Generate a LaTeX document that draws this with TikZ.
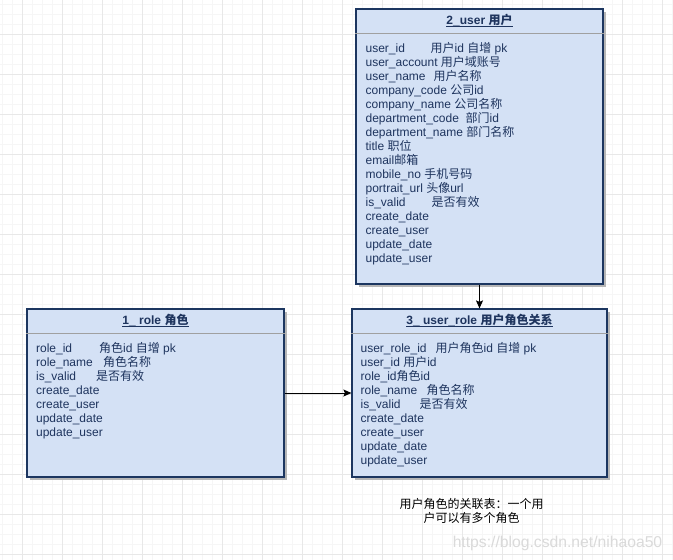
\documentclass[tikz,border=0pt]{standalone}
\usepackage{fontspec}
\setmainfont{Liberation Sans}
\newfontfamily\cjkfont{Noto Sans CJK SC}
\usetikzlibrary{arrows.meta,shadows}
\definecolor{boxfill}{RGB}{212,225,245}
\definecolor{boxline}{RGB}{28,54,96}
\definecolor{boxtext}{RGB}{30,52,94}
\definecolor{gridminor}{RGB}{246,246,246}
\definecolor{gridmajor}{RGB}{232,232,232}
\definecolor{sepgray}{RGB}{160,160,160}
\definecolor{shadowgray}{RGB}{182,182,182}
\definecolor{markgray}{RGB}{218,218,218}
\newcommand{\zh}[1]{{\cjkfont #1}}
\newcommand{\fld}[2]{\makebox[#1pt][l]{#2}}
\newcommand{\uline}[1]{\setbox0\hbox{#1}\rlap{\rule[-2.8pt]{\wd0}{1pt}}\box0}

\begin{document}
\begin{tikzpicture}[x=1pt,y=-1pt,>={Stealth[length=8pt,width=7pt,inset=1.5pt]},
		tablebox/.style={rectangle,draw=boxline,line width=1.2pt,fill=boxfill,inner sep=0pt,
			drop shadow={shadow xshift=2.5pt,shadow yshift=-2.5pt,fill=shadowgray,opacity=1}},
		tabletitle/.style={font=\bfseries\fontsize{12}{14}\selectfont,text=boxtext,anchor=base,inner sep=0pt},
		fields/.style={font=\fontsize{12}{14}\selectfont,text=boxtext,align=left,anchor=north west,inner sep=0pt},
		divider/.style={draw=sepgray,line width=0.9pt},
		note/.style={font=\fontsize{12}{14}\selectfont,align=center,inner sep=0pt},
		watermark/.style={font=\fontsize{15.7}{18}\selectfont,text=markgray,inner sep=0pt}]
		\useasboundingbox (0,0) rectangle (673,560);
		\fill[white] (0,0) rectangle (673,560);
		\foreach \x in {2,12,...,672} \draw[gridminor,line width=0.8pt] (\x,0) -- (\x,560);
		\foreach \y in {4,14,...,554} \draw[gridminor,line width=0.8pt] (0,\y) -- (673,\y);
		\foreach \x in {22,62,...,662} \draw[gridmajor,line width=0.9pt] (\x,0) -- (\x,560);
		\foreach \y in {34,74,...,554} \draw[gridmajor,line width=0.9pt] (0,\y) -- (673,\y);
		
		\node[tablebox,minimum width=247pt,minimum height=275pt] (user)     at (479.5,146.5) {};
		\node[tablebox,minimum width=257pt,minimum height=168pt] (role)     at (155.5,393)   {};
		\node[tablebox,minimum width=255pt,minimum height=168pt] (userrole) at (479.5,393)   {};
		
		\node[tabletitle] (usertitle)     at ([yshift=-16pt]user.north)     {\uline{2\_user \zh{用户}}};
		\node[tabletitle] (roletitle)     at ([yshift=-16pt]role.north)     {\uline{1\_ role \zh{角色}}};
		\node[tabletitle] (userroletitle) at ([yshift=-16pt]userrole.north) {\uline{3\_ user\_role \zh{用户角色关系}}};
		
		\draw[divider] ([yshift=-25pt]user.north west) -- ([yshift=-25pt]user.north east);
		\draw[divider] ([yshift=-25pt]role.north west) -- ([yshift=-25pt]role.north east);
		\draw[divider] ([yshift=-25pt]userrole.north west) -- ([yshift=-25pt]userrole.north east);
		
		\node[fields] (userfields) at ([xshift=10pt,yshift=-33pt]user.north west)
			{\rule{0pt}{11pt}\fld{65}{user\_id}\zh{用户}id \zh{自增} pk\\
			user\_account \zh{用户域账号}\\
			\fld{68}{user\_name}\zh{用户名称}\\
			company\_code \zh{公司}id\\
			company\_name \zh{公司名称}\\
			department\_code\ \ \zh{部门}id\\
			department\_name \zh{部门名称}\\
			title \zh{职位}\\
			email\zh{邮箱}\\
			mobile\_no \zh{手机号码}\\
			portrait\_url \zh{头像}url\\
			\fld{66}{is\_valid}\zh{是否有效}\\
			create\_date\\
			create\_user\\
			update\_date\\
			update\_user};
		\node[fields] (rolefields) at ([xshift=9.5pt,yshift=-33pt]role.north west)
			{\rule{0pt}{11pt}\fld{63}{role\_id}\zh{角色}id \zh{自增} pk\\
			\fld{67}{role\_name}\zh{角色名称}\\
			\fld{60}{is\_valid}\zh{是否有效}\\
			create\_date\\
			create\_user\\
			update\_date\\
			update\_user};
		\node[fields] (userrolefields) at ([xshift=9pt,yshift=-33pt]userrole.north west)
			{\rule{0pt}{11pt}\fld{75}{user\_role\_id}\zh{用户角色}id \zh{自增} pk\\
			user\_id \zh{用户}id\\
			role\_id\zh{角色}id\\
			\fld{66}{role\_name}\zh{角色名称}\\
			\fld{59}{is\_valid}\zh{是否有效}\\
			create\_date\\
			create\_user\\
			update\_date\\
			update\_user};
		
		\node[note] (relnote) at (471.5,511) {\zh{用户角色的关联表：一个用}\\\zh{户可以有多个角色}};
		\node[watermark] (mark) at (557.5,543) {https://blog.csdn.net/nihaoa50};
		
		\path[->,line width=1pt]
		(role.east) edge (userrole.west)
		(user.south) edge (userrole.north);
\end{tikzpicture}
\end{document}
